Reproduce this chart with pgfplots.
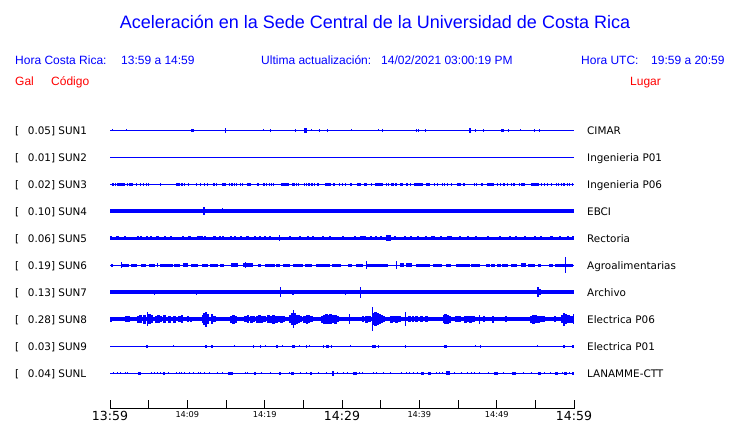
\documentclass[border=0pt]{standalone}
\usepackage{pgfplots}
\pgfplotsset{compat=1.18}
\usepackage{pgfplotstable}
\usepackage{fontspec}
\setmainfont{DejaVu Sans}
\newfontfamily\arial{Liberation Sans}
\definecolor{tblue}{RGB}{0,0,255}
\definecolor{tred}{RGB}{255,0,0}
\pgfdeclareplotmark{blank}{}
\pgfplotsset{
  burst/.style={scatter, only marks, mark=blank,
    visualization depends on={\thisrow{w}\as\bw},
    visualization depends on={\thisrow{a}\as\ba},
    scatter/@pre marker code/.code={%
      \pgfsetfillcolor{tblue}%
      \pgfpathrectangle{\pgfpoint{-0.5pt*\bw}{-1pt*\ba}}{\pgfpoint{1pt*\bw}{2pt*\ba}}%
      \pgfusepath{fill}},
    scatter/@post marker code/.code={}},
  base/.style={tblue, line width=#1, no marks},
}
% SUN1 CIMAR
\pgfplotstableread{
t w a
0.26 1 1
2.10 1 1
10.70 3 1.5
14.90 1.2 2.5
19.90 1 1
20.70 1 1.5
24.00 1 1.5
25.30 3 2.5
26.00 1 1
27.10 1 1.5
28.10 1 1.5
31.20 1 1
34.70 1 1
35.20 1 1.5
39.60 1 1.5
39.90 1 1.5
40.80 1 1.5
46.60 2 2.5
47.20 1 1.5
48.30 1 1.5
50.80 3 1.5
51.50 1 1.5
53.10 1 1
54.90 1 1.5
55.60 1 1.5
}\sunA
% SUN3 Ingenieria P06
\pgfplotstableread{
t w a
0.39 1.3 1.3
0.69 1.3 1.3
1.03 1.3 1.3
1.29 1.3 1.3
1.64 2.5 1.3
1.90 1.3 1.3
2.24 1.3 1.3
2.59 1.3 1.3
2.84 2 1.3
3.45 1.3 1.3
3.92 1.3 1.3
4.35 1.3 1.3
4.70 1.3 1.3
5.00 1.3 1.3
6.51 1.3 1.3
8.58 1.3 1.3
8.79 1.3 1.3
9.01 1.3 1.3
9.31 1.3 1.3
9.65 1.3 1.3
10.17 1.3 1.3
11.21 1.3 1.3
11.72 1.3 1.3
12.24 1.3 1.3
12.59 1.3 1.3
13.45 1.3 1.3
13.79 1.3 1.3
14.74 3.3 1.5
15.47 1.3 1.3
15.78 1.3 1.3
16.12 1.3 1.3
16.38 1.3 1.3
16.85 1.3 1.3
17.15 1.3 1.3
17.97 4.7 1.5
19.14 2 1.3
19.91 1.3 1.3
20.26 1.3 1.3
20.60 1.3 1.3
20.86 1.3 1.3
21.16 1.3 1.3
22.63 7.3 1.5
23.58 1.3 1.3
23.79 1.3 1.3
24.14 1.3 1.3
24.35 1.3 1.3
25.17 1.3 1.3
25.39 1.3 1.3
25.73 1.3 1.3
26.12 1.3 1.3
26.47 1.3 1.3
26.90 1.5 1.3
28.19 5.3 1.5
28.96 1.3 1.3
29.70 1.3 1.3
30.08 1.3 1.3
30.43 1.3 1.3
31.12 2 1.3
32.24 4 1.5
33.02 2.3 1.3
33.79 1.3 1.3
34.74 8.3 1.5
35.73 1.3 1.3
36.03 1.3 1.3
36.51 3.3 1.3
36.98 1.3 1.3
37.71 3.3 1.3
38.36 2.3 1.3
38.88 1.3 1.3
39.87 9 1.5
41.16 4.3 1.5
41.98 1.3 1.3
42.33 1.3 1.3
42.97 1.3 1.3
43.27 1.3 1.3
43.62 1.3 1.3
44.13 1.3 1.3
45.13 3.3 1.3
45.77 2.3 1.3
47.15 1.3 1.3
47.37 1.3 1.3
48.06 2.3 1.3
49.22 6.7 1.5
50.08 1.3 1.3
50.52 1.3 1.3
50.95 1.3 1.3
51.38 1.3 1.3
51.89 1.3 1.3
52.24 1.3 1.3
52.97 1.3 1.3
53.27 1.3 1.3
53.53 1.3 1.3
54.91 8 1.5
55.77 1.3 1.3
56.20 1.3 1.3
56.55 1.3 1.3
57.07 1.3 1.3
57.72 1.3 1.3
58.02 1.3 1.3
58.36 1.3 1.3
58.71 1.3 1.3
59.14 1.3 1.3
59.44 1.3 1.3
59.78 1.3 1.3
}\sunC
% SUN4 EBCI
\pgfplotstableread{
t w a
12.15 1.5 4
14.52 1.2 2.5
22.15 1 2.3
34.00 1 2.3
36.60 1 2.3
37.20 1 2.3
47.50 1 2.3
53.00 1 2.3
}\sunD
% SUN5 Rectoria
\pgfplotstableread{
t w a
0.17 2 2.2
0.95 3 2.2
1.90 2 2.2
3.62 2 2.2
4.05 2 2.2
4.83 2 2.2
5.34 2 2.2
6.12 3 2.2
7.15 2 2.2
7.93 2 2.2
9.44 2 2.2
10.30 3 2.2
11.59 6 2.2
12.24 2 2.2
13.45 3 2.2
14.18 2 2.2
14.61 2 2.2
15.60 2 2.2
16.21 2 2.2
16.90 2 2.2
17.84 3 2.2
18.71 2 2.2
19.35 2 2.2
20.00 2 2.2
20.64 2 2.2
21.94 1.5 3
23.23 2 2.2
24.52 2 2.2
25.60 2 2.2
26.25 2 2.2
27.54 2 2.2
28.40 2 2.2
30.13 2 2.2
31.64 2 2.2
32.71 6 2.2
33.79 2 2.2
34.44 2 2.2
35.08 2 2.2
35.95 5 3
36.81 2 2.2
38.10 2 2.2
38.96 2 2.2
39.82 2 2.2
40.90 2 2.2
41.77 4 2.2
42.84 2 2.2
43.92 5 2.2
45.21 2 2.2
46.29 2 2.2
47.37 2 2.2
48.88 2 2.2
50.39 2 2.2
51.68 2 2.2
52.54 2 2.2
53.62 2 2.2
54.91 2 2.2
55.77 2 2.2
57.07 3 2.2
58.14 2 2.2
59.22 2 2.2
59.87 2 2.2
}\sunE
% SUN6 Agroalimentarias
\pgfplotstableread{
t w a
0.30 2 1.4
1.50 1.2 3
1.98 6.7 1.4
3.10 6.7 1.4
4.37 5 1.4
5.39 6 1.4
6.12 1 2
7.28 13.3 1.5
8.64 5.7 1.4
9.76 5 2
10.90 7.3 1.4
12.31 5.7 1.4
13.43 8.3 1.4
14.46 4.3 1.4
16.12 6.7 2
17.84 10 2
17.50 1.2 3
19.35 3.3 1.4
20.65 10 1.4
21.72 3.3 1.4
22.80 6.7 1.4
24.31 10 1.4
25.69 6.7 1.4
27.54 13.3 1.4
29.31 9.3 1.4
31.03 4 1.4
32.28 6.7 1.4
33.14 1.2 4
34.61 20.7 1.5
37.07 1.2 4
37.73 4.3 2
38.68 5.7 2
40.47 13.3 1.4
42.37 9.3 1.4
43.81 5 1.4
45.64 13.3 1.4
47.26 8.3 1.4
48.83 4 1.4
49.52 3.3 1.4
50.30 3.3 1.4
51.07 6 1.4
52.28 6 1.4
53.51 5 2
54.48 6.7 1.4
55.56 3.3 1.4
57.00 4.3 1.4
58.68 18.3 1.6
58.88 1.3 8
}\sunF
% SUN7 Archivo
\pgfplotstableread{
t w a
4.48 1 2
5.78 1.2 2.4
8.88 1 2
9.22 1 2
10.09 1 2
11.16 1.2 2.4
13.10 1 2
16.34 1 2
17.20 1 2
22.07 1.3 5
23.66 2 2.5
25.17 1 2
29.70 1 2
30.47 1.2 2.5
32.37 1.3 5.5
36.16 1 2
37.24 1 2
37.89 1 2
55.34 1.3 5
55.56 2 3
}\sunG
% SUN8 Electrica P06
\pgfplotstableread{
t w a
0.10 2 2.7
2.30 5 3
3.62 2.5 3.5
3.92 2.5 4
4.48 2.5 4.5
4.83 1.5 7
5.13 2.5 5
5.43 2.5 4
5.99 2.5 3.5
6.29 2.5 4
6.55 2.5 3
7.07 2.5 4
7.72 2.5 3.5
8.36 2.5 3.5
9.01 2.5 3
9.31 2.5 4
10.09 2 3
10.43 2 2.5
12.03 2.5 4
12.24 2.5 6
12.41 1.5 7.5
12.59 2.5 5
13.19 1.2 5
13.45 2 3
13.62 2 3
15.69 2.5 3.5
15.95 2.5 4.5
16.21 2.5 3.5
17.50 2.5 3
17.84 2.5 4
18.28 2.5 3.5
18.58 2.5 3
19.05 2.5 3.5
19.35 2.5 4
19.65 2.5 3.5
20.00 2.5 3
20.52 2.5 4
20.86 2.5 3.5
21.16 2.5 4.5
21.51 2.5 3.5
21.81 2.5 3
22.15 2.5 3.5
22.50 2.5 3
23.36 2.5 4
23.53 2.5 6
23.70 1.5 9
23.88 2.5 6
24.09 2.5 4.5
24.40 2.5 4
24.65 2.5 3
25.17 2.5 3.5
25.47 2.5 4.5
25.73 2.5 4
26.03 2.5 3
27.41 2.5 3.5
27.67 2.5 4.5
27.97 2.5 5
28.27 2.5 4.5
28.53 2.5 5
28.83 2.5 4
29.14 2.5 4.5
29.40 2.5 3
30.99 1.5 5
32.71 2.5 3
33.14 2.5 3.5
33.58 2.5 3
33.92 1.5 12
34.14 2.5 6
34.35 2.5 7
34.57 2.5 6
34.83 2.5 5
35.08 2.5 4
35.34 2.5 3
36.38 2.5 3.5
36.72 2.5 3
37.07 2.5 3.5
37.46 2.5 3
38.19 1.5 7
38.75 2.5 3
39.18 2.5 3
39.61 2.5 2.8
40.26 2.5 3
40.90 2.5 3
43.19 2.5 4
43.40 2.5 5
43.62 2.5 4.5
43.88 2.5 3.5
44.78 2.5 3
45.21 2.5 3
45.95 2.5 3.5
46.29 2.5 3
46.64 2.5 3.5
46.98 2.5 3
47.80 1.5 4.5
48.36 2.5 3
49.52 2 3.5
51.25 2 3
54.48 2.5 3.5
54.78 2.5 4.5
55.08 2.5 4
55.43 2.5 3.5
55.77 2.5 3
56.12 2.5 3
57.59 2 3
58.45 2.5 4
58.71 1.5 6.5
58.92 2.5 5
59.31 2.5 4
59.66 2.5 3.5
59.96 1.5 5
}\sunH
% SUN9 Electrica P01
\pgfplotstableread{
t w a
4.78 2 1.3
8.19 1 1
12.37 2 1.3
13.19 1.2 1.3
16.12 1 1
18.58 1.2 1.3
19.44 1.2 1.3
20.09 1 1
21.59 1.5 1.3
22.28 1 1
23.79 3 1.3
24.52 1 1
25.39 1.2 1.3
25.86 1 1
27.63 1.5 1.3
28.10 3 1.3
28.66 1.2 1.3
31.08 1 1
34.14 4 1.3
34.74 1.2 1.3
38.19 1.2 1.3
43.36 3 1.3
47.28 1 1
47.89 1.2 1.3
55.26 1 1
58.71 2 1.3
59.87 1.5 1.3
}\sunI
% SUNL LANAMME-CTT
\pgfplotstableread{
t w a
0.39 1 1
1.03 1 1.2
1.38 1 1.2
1.98 1 1.2
2.20 1 1.2
3.84 3 1.3
5.34 1 1.2
5.78 1 1.2
6.12 1 1.2
6.55 1 1.2
6.98 2 1.3
7.59 1 1.2
8.58 1 1.2
9.01 1 1.2
9.31 1 1.2
9.65 1 1.2
10.30 1 1.2
10.78 1 1.2
11.38 1 1.2
11.72 1 1.2
12.24 1 1.2
12.89 1 1.2
13.88 1 1.2
14.61 1 1.2
15.60 5 1.4
17.50 1 1.2
17.84 1 1.2
18.71 2 1.3
19.57 1 1.2
20.73 1 1.2
21.94 2 1.3
23.23 1 1.2
23.66 3 1.3
24.65 1 1.2
25.39 1 1.2
26.03 2 1.3
26.90 1 1.2
27.97 1 1.2
28.83 1.3 2.3
29.48 1 1.2
30.13 1 1.2
30.69 1 1.2
31.64 4 1.3
32.28 1 1.2
32.71 1 1.2
34.01 1 1.2
34.44 1 1.2
35.43 1 1.2
36.29 1 1.2
37.67 1 1.2
38.32 1 1.2
38.72 1 1.2
39.30 1 1.2
39.82 1 1.2
40.47 3 1.3
41.33 3 1.3
42.20 1 1.2
42.63 1 1.2
43.06 1 1.2
43.71 4 2
44.57 1 1.2
45.43 1 1.2
46.20 1 1.2
46.72 1 1.2
47.15 1 1.2
47.80 1 1.2
48.88 1 1.2
49.96 4 1.3
50.82 1 1.2
52.24 4 1.3
53.53 1 1.2
54.48 1 1.2
55.56 3 1.3
56.20 1 1.2
56.98 1 1.2
57.72 3 1.3
58.45 1 1.2
58.88 3 1.3
59.44 1 1.2
59.87 2 1.3
}\sunL
\begin{document}
\begin{tikzpicture}
\begin{axis}[
  at={(110pt,14pt)}, anchor=south west,
  scale only axis, width=464pt, height=409pt,
  xmin=0, xmax=60, ymin=14, ymax=423,
  axis x line=bottom, axis y line=none,
  axis line style={-, black, line width=1pt},
  xtick={0,5,...,60}, xtick align=inside, major tick length=8.7pt,
  tick style={black, line width=1pt},
  xticklabels={{\fontsize{12.5}{14}\selectfont 13:59},,{\fontsize{8.2}{10}\selectfont 14:09},,{\fontsize{8.2}{10}\selectfont 14:19},,{\fontsize{12.5}{14}\selectfont 14:29},,{\fontsize{8.2}{10}\selectfont 14:39},,{\fontsize{8.2}{10}\selectfont 14:49},,{\fontsize{12.5}{14}\selectfont 14:59}},
  xticklabel style={anchor=north, inner sep=0pt, yshift=-2.5pt},
  ytick=\empty,
]
% SUN1
\addplot[base=1.1pt] coordinates {(0,292.7) (60,292.7)};
\addplot[burst] table[x=t, y expr=292.7] {\sunA};
% SUN2
\addplot[base=1pt] coordinates {(0,265.7) (60,265.7)};
% SUN3
\addplot[base=1pt] coordinates {(0,238.7) (60,238.7)};
\addplot[burst] table[x=t, y expr=238.7] {\sunC};
% SUN4
\addplot[base=3.9pt] coordinates {(0,212) (60,212)};
\addplot[burst] table[x=t, y expr=212] {\sunD};
% SUN5
\addplot[base=2.9pt] coordinates {(0,184.7) (60,184.7)};
\addplot[burst] table[x=t, y expr=184.7] {\sunE};
% SUN6
\addplot[base=1pt] coordinates {(0,157.7) (60,157.7)};
\addplot[burst] table[x=t, y expr=157.7] {\sunF};
% SUN7
\addplot[base=3.6pt] coordinates {(0,130.7) (60,130.7)};
\addplot[burst] table[x=t, y expr=130.7] {\sunG};
% SUN8
\addplot[base=4.4pt] coordinates {(0,103.7) (60,103.7)};
\addplot[burst] table[x=t, y expr=103.7] {\sunH};
% SUN9
\addplot[base=1pt] coordinates {(0,76.7) (60,76.7)};
\addplot[burst] table[x=t, y expr=76.7] {\sunI};
% SUNL
\addplot[base=1pt] coordinates {(0,49.7) (60,49.7)};
\addplot[burst] table[x=t, y expr=49.7] {\sunL};
\end{axis}
% texts
\node[anchor=base, inner sep=0pt, text=tblue, font=\arial\fontsize{18}{20}\selectfont] at (375pt,394pt) {Aceleración en la Sede Central de la Universidad de Costa Rica};
\begin{scope}[every node/.style={anchor=base west, inner sep=0pt, font=\arial\fontsize{12}{14}\selectfont}]
\node[text=tblue] at (15pt,358.5pt) {Hora Costa Rica:};
\node[text=tblue] at (121pt,358.5pt) {13:59 a 14:59};
\node[text=tblue] at (261pt,358.5pt) {Ultima actualización:};
\node[text=tblue] at (381pt,358.5pt) {14/02/2021 03:00:19 PM};
\node[text=tblue] at (581pt,358.5pt) {Hora UTC:};
\node[text=tblue] at (651pt,358.5pt) {19:59 a 20:59};
\node[text=tred] at (15pt,337.5pt) {Gal};
\node[text=tred] at (51pt,337.5pt) {Código};
\node[text=tred] at (630pt,337.5pt) {Lugar};
\end{scope}
\begin{scope}[every node/.style={anchor=base west, inner sep=0pt, font=\fontsize{10.4}{12}\selectfont}]
\foreach \k/\g/\c/\l in {0/0.05/SUN1/CIMAR, 1/0.01/SUN2/Ingenieria P01, 2/0.02/SUN3/Ingenieria P06, 3/0.10/SUN4/EBCI, 4/0.06/SUN5/Rectoria, 5/0.19/SUN6/Agroalimentarias, 6/0.13/SUN7/Archivo, 7/0.28/SUN8/Electrica P06, 8/0.03/SUN9/Electrica P01, 9/0.04/SUNL/LANAMME-CTT}{
  \pgfmathsetmacro\yb{288.7-27*\k}
  \node at (15pt,\yb pt) {[};
  \node at (27.7pt,\yb pt) {\g] \c};
  \node at (587pt,\yb pt) {\l};
}
\end{scope}
\pgfresetboundingbox
\path[use as bounding box] (0,0) rectangle (740pt,423pt);
\end{tikzpicture}
\end{document}
